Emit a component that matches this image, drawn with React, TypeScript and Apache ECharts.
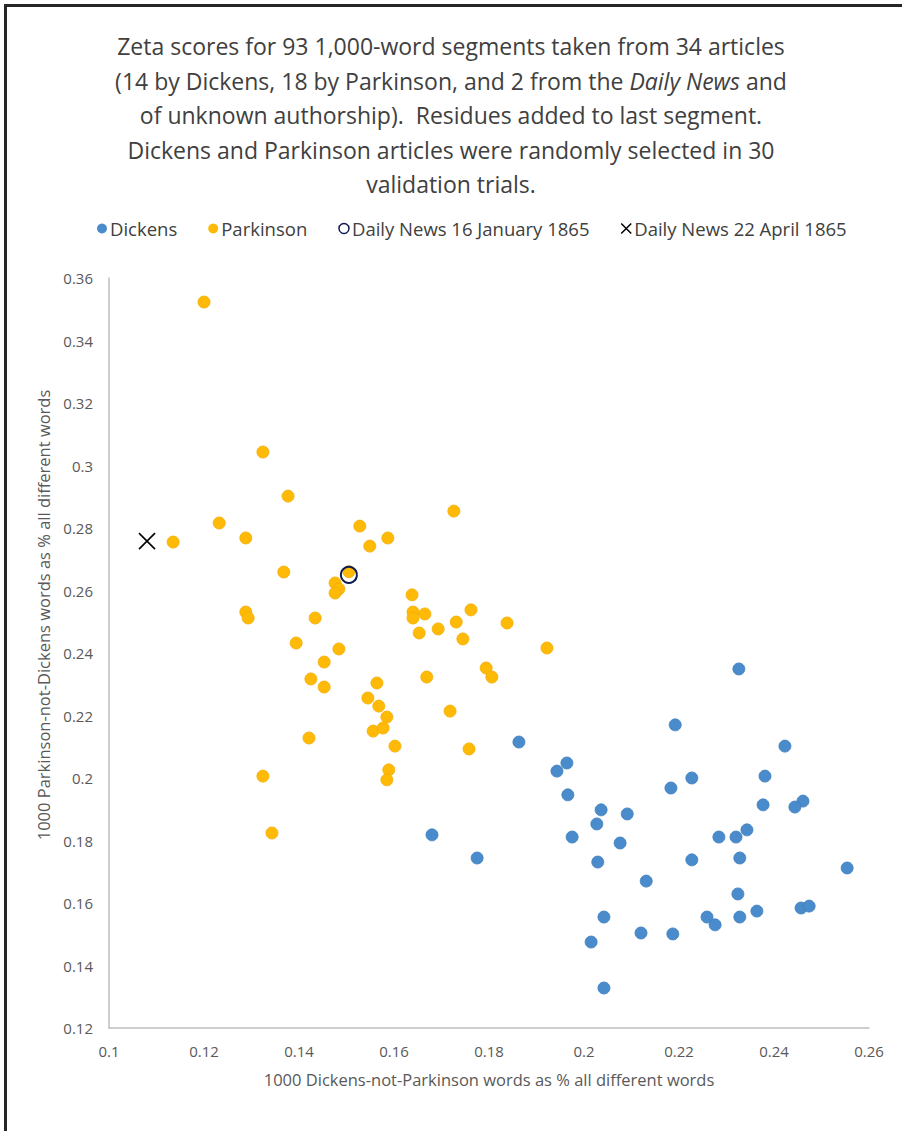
import React, { useEffect, useRef } from "react";
import * as echarts from "echarts";

const titleLines = [
  "Zeta scores for 93 1,000-word segments taken from 34 articles",
  "(14 by Dickens, 18 by Parkinson, and 2 from the {i|Daily News} and",
  "of unknown authorship).  Residues added to last segment.",
  "Dickens and Parkinson articles were randomly selected in 30",
  "validation trials.",
];

const seriesNames = [
  "Dickens",
  "Parkinson",
  "Daily News 16 January 1865",
  "Daily News 22 April 1865",
];

const xAxisTitle = "1000 Dickens-not-Parkinson words as % all different words";
const yAxisTitle = "1000 Parkinson-not-Dickens words as % all different words";

const xRange = [0.1, 0.26];
const yRange = [0.12, 0.36];
const tickStep = 0.02;

const dickens: [number, number][] = [
  [0.2326, 0.2349], [0.2192, 0.217], [0.1863, 0.2115], [0.2423, 0.2102],
  [0.1964, 0.2048], [0.1943, 0.2022], [0.2227, 0.2], [0.2183, 0.1968],
  [0.2381, 0.2006], [0.1966, 0.1946], [0.2377, 0.1914], [0.2461, 0.1926],
  [0.2444, 0.1907], [0.2036, 0.1898], [0.2091, 0.1885], [0.2027, 0.1853],
  [0.168, 0.1818], [0.1975, 0.1811], [0.2076, 0.1792], [0.2284, 0.1811],
  [0.232, 0.1811], [0.2343, 0.1834], [0.1775, 0.1744], [0.2029, 0.1731],
  [0.2227, 0.1738], [0.2328, 0.1744], [0.2554, 0.1712], [0.2131, 0.167],
  [0.2324, 0.1629], [0.2259, 0.1555], [0.2276, 0.153], [0.2328, 0.1555],
  [0.2364, 0.1574], [0.2457, 0.1584], [0.2474, 0.159], [0.2042, 0.1555],
  [0.212, 0.1504], [0.2187, 0.1501], [0.2015, 0.1475], [0.2042, 0.1328],
];

const parkinson: [number, number][] = [
  [0.12, 0.3523], [0.1324, 0.3043], [0.1377, 0.2902], [0.1232, 0.2816],
  [0.1288, 0.2768], [0.1135, 0.2755], [0.1528, 0.2806], [0.1549, 0.2742],
  [0.1587, 0.2768], [0.1726, 0.2854], [0.1368, 0.2659], [0.1505, 0.266],
  [0.1476, 0.2624], [0.1484, 0.2605], [0.1476, 0.2592], [0.1638, 0.2586],
  [0.1288, 0.2531], [0.1293, 0.2512], [0.1434, 0.2512], [0.164, 0.2531],
  [0.1665, 0.2525], [0.164, 0.2512], [0.1762, 0.2538], [0.1731, 0.2499],
  [0.1693, 0.2477], [0.1653, 0.2464], [0.1745, 0.2445], [0.1838, 0.2496],
  [0.1922, 0.2416], [0.1394, 0.2432], [0.1484, 0.2413], [0.1453, 0.2371],
  [0.1425, 0.2317], [0.1453, 0.2291], [0.1564, 0.2304], [0.1545, 0.2256],
  [0.1568, 0.223], [0.1585, 0.2195], [0.1556, 0.215], [0.1577, 0.216],
  [0.1602, 0.2102], [0.1669, 0.2323], [0.1794, 0.2352], [0.1806, 0.2323],
  [0.1718, 0.2214], [0.1758, 0.2093], [0.1421, 0.2128], [0.1324, 0.2006],
  [0.1589, 0.2026], [0.1585, 0.1994], [0.1343, 0.1824],
];

const dailyNewsJan: [number, number][] = [[0.1505, 0.265]];
const dailyNewsApr: [number, number][] = [[0.108, 0.2758]];

const FONT = "'Open Sans', sans-serif";
const TEXT = "#404040";
const LABEL = "#595959";
const BLUE = "#4A8CCB";
const BLUE_EDGE = "#3D7DBD";
const GOLD = "#FFBA08";
const GOLD_EDGE = "#F3AC00";
const NAVY = "#0F1C50";
const CROSS = "path://M0,0L10,10M10,0L0,10";

export default function App() {
  const ref = useRef<HTMLDivElement>(null);

  useEffect(() => {
    if (!ref.current) return;
    const chart = echarts.init(ref.current, undefined, { renderer: "svg" });
    chart.setOption({
      animation: false,
      backgroundColor: "#ffffff",
      title: {
        text: titleLines.join("\n"),
        left: "center",
        top: 24,
        textStyle: {
          fontFamily: FONT,
          fontSize: 23,
          fontWeight: "normal",
          color: TEXT,
          lineHeight: 34.5,
          rich: {
            i: {
              fontFamily: FONT,
              fontSize: 23,
              fontStyle: "italic",
              color: TEXT,
              lineHeight: 34.5,
            },
          },
        },
      },
      legend: {
        top: 214,
        left: 92,
        itemGap: 31,
        itemWidth: 10,
        itemHeight: 10,
        textStyle: { fontFamily: FONT, fontSize: 18.5, color: TEXT, padding: [0, 0, 0, -2] },
        data: [
          { name: seriesNames[0], icon: "circle", itemStyle: { color: BLUE, borderWidth: 0 } },
          { name: seriesNames[1], icon: "circle", itemStyle: { color: GOLD, borderWidth: 0 } },
          {
            name: seriesNames[2],
            icon: "circle",
            itemStyle: { color: "rgba(0,0,0,0)", borderColor: NAVY, borderWidth: 1.5 },
          },
          {
            name: seriesNames[3],
            icon: CROSS,
            itemStyle: { color: "rgba(0,0,0,0)", borderColor: "#000", borderWidth: 1.5 },
          },
        ],
      },
      grid: { left: 109, right: 33, top: 278, bottom: 103, containLabel: false },
      xAxis: {
        type: "value",
        min: xRange[0],
        max: xRange[1],
        interval: tickStep,
        name: xAxisTitle,
        nameLocation: "middle",
        nameGap: 43,
        nameTextStyle: { fontFamily: FONT, fontSize: 16.5, color: LABEL },
        axisLine: { show: true, lineStyle: { color: "#BFBFBF", width: 1.5 } },
        axisTick: { show: false },
        splitLine: { show: false },
        axisLabel: { fontFamily: FONT, fontSize: 15, color: LABEL, margin: 15 },
      },
      yAxis: {
        type: "value",
        min: yRange[0],
        max: yRange[1],
        interval: tickStep,
        name: yAxisTitle,
        nameLocation: "middle",
        nameGap: 56,
        nameTextStyle: {
          fontFamily: FONT,
          fontSize: 16.5,
          color: LABEL,
          padding: [0, 0, 0, 76],
        },
        axisLine: { show: true, lineStyle: { color: "#BFBFBF", width: 1.5 } },
        axisTick: { show: false },
        splitLine: { show: false },
        axisLabel: { fontFamily: FONT, fontSize: 15, color: LABEL, margin: 16 },
      },
      series: [
        {
          name: seriesNames[0],
          type: "scatter",
          data: dickens,
          symbol: "circle",
          symbolSize: 12,
          itemStyle: { color: BLUE, borderColor: BLUE_EDGE, borderWidth: 0.8, opacity: 1 },
        },
        {
          name: seriesNames[1],
          type: "scatter",
          data: parkinson,
          symbol: "circle",
          symbolSize: 12,
          itemStyle: { color: GOLD, borderColor: GOLD_EDGE, borderWidth: 0.8, opacity: 1 },
        },
        {
          name: seriesNames[2],
          type: "scatter",
          data: dailyNewsJan,
          symbol: "circle",
          symbolSize: 16,
          itemStyle: { color: "rgba(0,0,0,0)", borderColor: NAVY, borderWidth: 2, opacity: 1 },
        },
        {
          name: seriesNames[3],
          type: "scatter",
          data: dailyNewsApr,
          symbol: CROSS,
          symbolSize: 16,
          itemStyle: { color: "rgba(0,0,0,0)", borderColor: "#000", borderWidth: 1.6, opacity: 1 },
        },
      ],
      graphic: [
        {
          type: "polyline",
          shape: { points: [[5.5, 1300], [5.5, 5.5], [1100, 5.5]] },
          style: { fill: "none", stroke: "#262626", lineWidth: 3 },
          silent: true,
          z: 100,
        },
      ],
    });
    return () => chart.dispose();
  }, []);

  return (
    <div
      ref={ref}
      style={{ position: "absolute", left: 0, top: 0, width: 902, height: 1131 }}
    />
  );
}
